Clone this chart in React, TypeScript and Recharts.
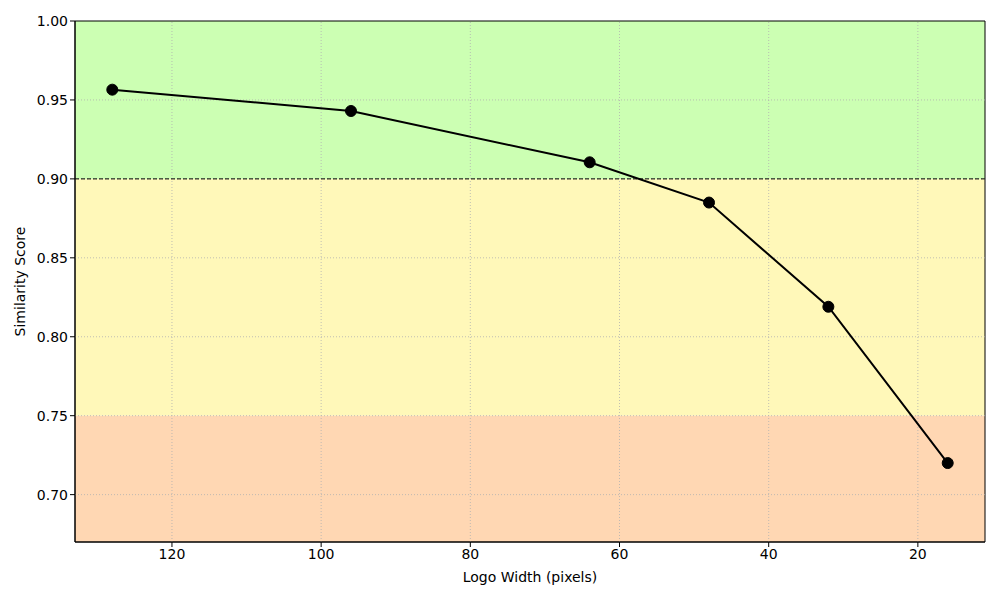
import React from 'react';
import { LineChart, Line, XAxis, YAxis, ReferenceArea, ReferenceLine } from 'recharts';

const logoWidths = [128, 96, 64, 48, 32, 16];
const similarity = [0.9565, 0.943, 0.9105, 0.885, 0.819, 0.72];
const xTicks = [20, 40, 60, 80, 100, 120];
const yTicks = [0.7, 0.75, 0.8, 0.85, 0.9, 0.95, 1.0];
const bands = [
  { y1: 0.9, y2: 1.0, color: '#ccffb3' },
  { y1: 0.75, y2: 0.9, color: '#fff8b9' },
  { y1: 0.67, y2: 0.75, color: '#ffd7b3' },
];
const threshold = 0.9;
const xDomain: [number, number] = [11, 133];
const yDomain: [number, number] = [0.67, 1.0];

const data = logoWidths.map((w, i) => ({ w, s: similarity[i] }));

const font = 'DejaVu Sans, sans-serif';
const gridStyle = { stroke: '#b0b0b0', strokeDasharray: '1 2', strokeWidth: 0.8 };

export default function App() {
  return (
    <div style={{ position: 'absolute', left: 0, top: 0, width: 1000, height: 600, background: '#fff' }}>
      <LineChart
        width={1000}
        height={600}
        data={data}
        margin={{ top: 21, right: 15, left: 15, bottom: 13 }}
        style={{ fontFamily: font }}
      >
        {bands.map((b, i) => (
          <ReferenceArea
            key={i}
            x1={xDomain[0]}
            x2={xDomain[1]}
            y1={b.y1}
            y2={b.y2}
            fill={b.color}
            fillOpacity={1}
            stroke="none"
            ifOverflow="hidden"
          />
        ))}
        {xTicks.map((t) => (
          <ReferenceLine key={'gx' + t} x={t} {...gridStyle} />
        ))}
        {yTicks.filter((t) => t < 1).map((t) => (
          <ReferenceLine key={'gy' + t} y={t} {...gridStyle} />
        ))}
        <ReferenceLine y={threshold} stroke="#000" strokeDasharray="4 2" strokeWidth={1} />
        <XAxis
          dataKey="w"
          type="number"
          domain={xDomain}
          reversed
          ticks={xTicks}
          allowDataOverflow
          height={45}
          tickSize={5}
          tick={{ fill: '#000', fontSize: 14, fontFamily: font }}
          stroke="#000"
          label={{ value: 'Logo Width (pixels)', position: 'insideBottom', offset: 5, fill: '#000', fontSize: 14, fontFamily: font }}
        />
        <YAxis
          type="number"
          domain={yDomain}
          ticks={yTicks}
          allowDataOverflow
          width={60}
          tickSize={5}
          tickFormatter={(v: number) => v.toFixed(2)}
          tick={{ fill: '#000', fontSize: 14, fontFamily: font }}
          stroke="#000"
          label={{ value: 'Similarity Score', angle: -90, position: 'insideLeft', offset: 5, fill: '#000', fontSize: 14, fontFamily: font, style: { textAnchor: 'middle' } }}
        />
        <ReferenceArea
          x1={xDomain[0]}
          x2={xDomain[1]}
          y1={yDomain[0]}
          y2={yDomain[1]}
          fill="none"
          stroke="#000"
          strokeWidth={1}
          ifOverflow="visible"
        />
        <Line
          dataKey="s"
          stroke="#000"
          strokeWidth={2}
          dot={{ r: 5.5, fill: '#000', stroke: '#000', strokeWidth: 1 }}
          isAnimationActive={false}
        />
      </LineChart>
    </div>
  );
}
